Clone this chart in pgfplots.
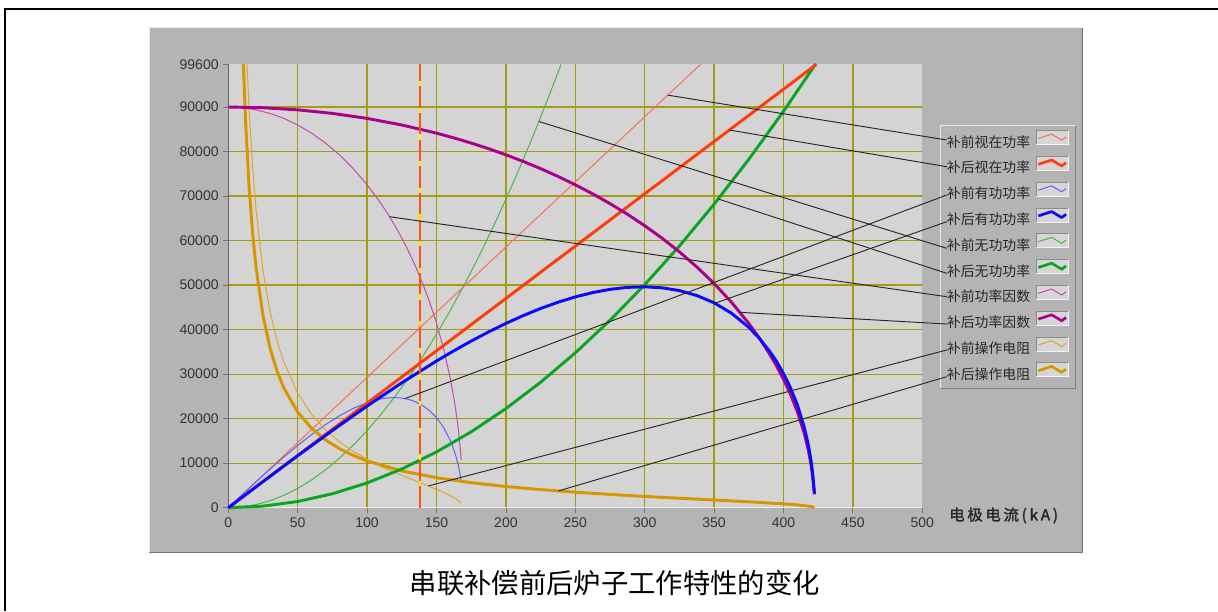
\documentclass[border=0pt]{standalone}
\usepackage{fontspec}
\setmainfont{Liberation Sans}
\newfontfamily\cjk{Noto Sans CJK SC}
\newfontfamily\cjkb[FakeBold=1.8,LetterSpace=18]{Noto Sans CJK SC}
\usepackage{pgfplots}
\pgfplotsset{compat=1.18}
\definecolor{panel}{RGB}{180,180,180}
\definecolor{plotbg}{RGB}{212,212,212}
\definecolor{gridc}{RGB}{165,155,15}
\definecolor{swbg}{RGB}{214,214,214}
\definecolor{redA}{RGB}{255,110,80}
\definecolor{redB}{RGB}{255,60,10}
\definecolor{bluA}{RGB}{95,95,255}
\definecolor{bluB}{RGB}{10,10,255}
\definecolor{grnA}{RGB}{70,185,70}
\definecolor{grnB}{RGB}{10,165,35}
\definecolor{purA}{RGB}{195,75,175}
\definecolor{purB}{RGB}{170,0,140}
\definecolor{orgA}{RGB}{225,165,40}
\definecolor{orgB}{RGB}{215,150,0}
\definecolor{cursor}{RGB}{255,80,20}
\begin{document}
\begin{tikzpicture}
\useasboundingbox (0,0) rectangle (913.5pt,458.25pt);
\begin{scope}[x=0.75pt,y=-0.75pt,shift={(0pt,458.25pt)}]
  % outer frame
  \draw[black, line width=1.5pt] (5,611) -- (5,9) -- (1218,9);
  % panel
  \fill[panel] (149,28) rectangle (1082,552);
  \draw[white!75!panel, line width=0.75pt] (149,552) -- (149,28) -- (1082,28);
  \draw[black!55, line width=0.75pt] (1082,28) -- (1082,552) -- (149,552);
  % legend box
  \fill[panel] (940,126) rectangle (1075,389);
  \draw[white!70!panel, line width=0.75pt] (940,389) -- (940,126) -- (1075,126);
  \draw[black!50, line width=0.75pt] (1075,126) -- (1075,389) -- (940,389);
\end{scope}

\begin{axis}[
  at={(171.225pt,77.475pt)}, anchor=south west,
  scale only axis, width=520.5pt, height=332.55pt,
  xmin=0, xmax=500, ymin=0, ymax=99600,
  axis background/.style={fill=plotbg},
  axis lines=left, axis line style={-},
  x axis line style={draw=white!85!gray, line width=0.75pt},
  y axis line style={draw=black!60, line width=0.75pt},
  xtick={0,50,...,450}, extra x ticks={500}, extra x tick style={grid=none},
  ytick={0,10000,...,90000}, extra y ticks={99600}, extra y tick style={grid=none},
  grid=major, major grid style={draw=gridc, line width=0.95pt},
  tick align=outside, major tick length=3.75pt,
  tick style={draw=black!55, line width=0.6pt},
  scaled y ticks=false,
  /pgf/number format/fixed,
  /pgf/number format/set thousands separator={},
  /pgf/number format/assume math mode=true,
  ticklabel style={font=\fontsize{10.5}{12}\selectfont, text=black!80},
  clip=false,
]
% before compensation (thin)
\addplot[redA, line width=0.75pt] coordinates {(0,0)(100,29270)(200,58540)(300,87810)(340.3,99600)};
\addplot[grnA, line width=0.75pt] coordinates {(0,0)(10,173)(20,693)(30,1559)(40,2771)(50,4330)(60,6235)(70,8487)(80,11085)(90,14029)(100,17320)(110,20957)(120,24941)(130,29271)(140,33947)(150,38970)(160,44339)(170,50055)(180,56117)(190,62525)(200,69280)(210,76381)(220,83829)(230,91623)(239.8,99600)};
\addplot[bluA, line width=0.75pt] coordinates {(0,0)(10,2922)(20,5813)(30,8642)(40,11376)(50,13980)(60,16418)(70,18649)(80,20626)(90,22296)(100,23596)(110,24443)(115,24665)(120,24732)(125,24623)(130,24311)(135,23769)(140,22952)(145,21799)(150,20222)(155,18077)(160,15076)(163,12597)(165,10440)(166,9109)(167,7487)(167.8,5830)};
\addplot[purA, line width=0.75pt] coordinates {(0,90000)(10,89846)(20,89353)(30,88570)(40,87447)(50,85971)(60,84127)(70,81913)(80,79268)(90,76163)(100,72553)(110,68322)(115,65949)(120,63372)(125,60567)(130,57499)(135,54138)(140,50396)(145,46227)(150,41448)(155,35852)(160,28965)(163,23768)(165,19454)(166,16872)(167,13784)(167.8,10682)};
\addplot[orgA, line width=0.75pt] coordinates {(13.47,99600)(15,89406)(17.5,76526)(20,66838)(25,53268)(30,44168)(35,37634)(40,32706)(50,25723)(60,20976)(70,17506)(80,14824)(90,12661)(100,10854)(110,9292)(115,8579)(120,7901)(125,7249)(130,6617)(135,5999)(140,5385)(145,4769)(150,4134)(155,3460)(160,2708)(163,2182)(165,1764)(167,1235)(167.8,952)};
% after compensation (thick)
\addplot[orgB, line width=2.2pt] coordinates {(10.85,99600)(12.5,86443)(15,72021)(17.5,61720)(20,53990)(25,43165)(30,35942)(35,30779)(40,26903)(50,21468)(60,17834)(70,15229)(80,13268)(90,11735)(100,10503)(125,8261)(150,6737)(175,5622)(200,4760)(225,4066)(250,3485)(275,2983)(300,2536)(325,2124)(350,1728)(375,1325)(400,866)(410,631)(420,267)(422.3,0)};
\addplot[grnB, line width=2.2pt] coordinates {(0,0)(25,348)(50,1391)(75,3130)(100,5565)(125,8695)(150,12521)(175,17043)(200,22260)(225,28173)(250,34781)(275,42085)(300,50085)(325,58780)(350,68171)(375,78258)(400,89040)(423.05,99600)};
\addplot[redB, line width=2.2pt] coordinates {(0,0)(100,23500)(200,47000)(300,70500)(400,94000)(423.8,99600)};
\addplot[purB, line width=2.2pt] coordinates {(0,90000)(25,89843)(50,89367)(75,88567)(100,87442)(125,85967)(150,84133)(162.5,83069)(175,81908)(187.5,80644)(200,79265)(212.5,77776)(225,76159)(237.5,74417)(250,72532)(262.5,70499)(275,68300)(287.5,65923)(300,63341)(312.5,60534)(325,57466)(337.5,54092)(350,50354)(362.5,46164)(375,41381)(382.5,38133)(390,34514)(395,31826)(400,28850)(405,25484)(410,21550)(415,16644)(418,12788)(420,9349)(421,7008)(421.8,4500)(422.3,3000)};
\addplot[bluB, line width=2.2pt] coordinates {(0,0)(25,5865)(50,11667)(75,17345)(100,22832)(125,28058)(150,32952)(162.5,35246)(175,37427)(187.5,39482)(200,41394)(212.5,43155)(225,44744)(237.5,46149)(250,47347)(262.5,48321)(275,49044)(287.5,49487)(300,49617)(312.5,49394)(325,48766)(337.5,47669)(350,46018)(362.5,43696)(375,40519)(382.5,38086)(390,35147)(395,32825)(400,30132)(405,26949)(410,23070)(415,18036)(418,13957)(420,10252)(421,7705)(421.8,5000)(422.3,3200)};
% cursor
\addplot[yellow, line width=0.8pt] coordinates {(138.1,0)(138.1,99600)};
\addplot[cursor, line width=2pt, dash pattern=on 16pt off 4pt] coordinates {(138.1,0)(138.1,99600)};
\addplot[only marks, mark=x, mark size=2.5pt, yellow!85!orange, line width=0.6pt] coordinates {(138.1,65300)};
\addplot[only marks, mark=x, mark size=2.5pt, orange!60!white, line width=0.5pt] coordinates {(138.1,40800)};
% annotation leader lines
\addplot[black!85, line width=0.7pt] coordinates {(316.6,92670)(517.6,82592)};
\addplot[black!85, line width=0.7pt] coordinates {(361,84835)(517.6,76595)};
\addplot[black!85, line width=0.7pt] coordinates {(127.3,24508)(517.6,70238)};
\addplot[black!85, line width=0.7pt] coordinates {(350.6,45929)(517.6,64241)};
\addplot[black!85, line width=0.7pt] coordinates {(223.8,86749)(517.6,58266)};
\addplot[black!85, line width=0.7pt] coordinates {(353,69345)(517.6,52650)};
\addplot[black!85, line width=0.7pt] coordinates {(116.2,65360)(517.6,47394)};
\addplot[black!85, line width=0.7pt] coordinates {(368.7,43878)(517.6,41262)};
\addplot[black!85, line width=0.7pt] coordinates {(144.1,4881)(517.6,35422)};
\addplot[black!85, line width=0.7pt] coordinates {(237.75,3758)(517.6,29425)};
\end{axis}

\begin{scope}[x=0.75pt,y=-0.75pt,shift={(0pt,458.25pt)}]
  \foreach \t/\c/\w [count=\i from 0] in {补前视在功率/redA/0.75pt, 补后视在功率/redB/2pt, 补前有功功率/bluA/0.75pt, 补后有功功率/bluB/2pt, 补前无功功率/grnA/0.75pt, 补后无功功率/grnB/2pt, 补前功率因数/purA/0.75pt, 补后功率因数/purB/2pt, 补前操作电阻/orgA/0.75pt, 补后操作电阻/orgB/2pt} {
    \pgfmathsetmacro\yy{141.7+25.8*\i}
    \pgfmathsetmacro\sy{\yy-4}
    \node[anchor=west, inner sep=0pt, font=\cjk\fontsize{10.4}{12}\selectfont, text=black!85] at (946.7,\yy) {\t};
    \fill[swbg] (1036,{\sy-7}) rectangle (1068,{\sy+7});
    \draw[black!45, line width=0.75pt] (1036,{\sy+7}) -- (1036,{\sy-7}) -- (1068,{\sy-7});
    \draw[white!90!gray, line width=0.75pt] (1068,{\sy-7}) -- (1068,{\sy+7}) -- (1036,{\sy+7});
    \draw[\c, line width=\w, line join=round] (1038.3,{\sy+0.8}) -- (1051.7,{\sy-3.5}) -- (1061.7,{\sy+2.5}) -- (1066,{\sy-0.8});
  }
  \node[anchor=west, inner sep=0pt, font=\cjkb\fontsize{11.5}{13}\selectfont, text=black!85] at (949,515.5) {电极电流(kA)};
  \node[inner sep=0pt, font=\cjk\fontsize{20.5}{24}\selectfont] at (614.8,583) {串联补偿前后炉子工作特性的变化};
\end{scope}
\end{tikzpicture}
\end{document}
